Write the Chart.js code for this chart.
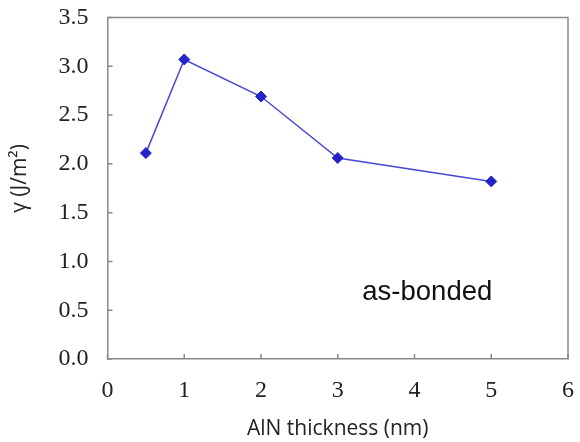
<!DOCTYPE html>
<html>
<head>
<meta charset="utf-8">
<script src="https://cdn.jsdelivr.net/npm/chart.js@4"></script>
<style>
  html, body { margin: 0; padding: 0; background: #fff; }
  #wrap { width: 580px; height: 442px; }
</style>
</head>
<body>
<div id="wrap"><canvas id="myChart" width="580" height="442"></canvas></div>
<script>
// AlN thickness (nm) vs bonding energy
const thickness = [0.5, 1, 2, 3, 5];
const gamma = [2.11, 3.07, 2.69, 2.06, 1.82];
const xTicks = [0, 1, 2, 3, 4, 5, 6];
const yTicks = [0.0, 0.5, 1.0, 1.5, 2.0, 2.5, 3.0, 3.5];

const axisGray = '#8a8a8a';

// frame on top/right + small inward tick marks + y title
const framePlugin = {
  id: 'frame',
  afterDraw(chart) {
    const {ctx, chartArea: a, scales} = chart;
    ctx.save();
    ctx.strokeStyle = axisGray;
    ctx.lineWidth = 1.5;
    ctx.beginPath();
    ctx.moveTo(a.left, a.top);
    ctx.lineTo(a.right, a.top);
    ctx.lineTo(a.right, a.bottom);
    ctx.stroke();
    ctx.beginPath();
    xTicks.forEach(v => {
      const px = scales.x.getPixelForValue(v);
      ctx.moveTo(px, a.bottom);
      ctx.lineTo(px, a.bottom - 5);
    });
    yTicks.forEach(v => {
      const py = scales.y.getPixelForValue(v);
      ctx.moveTo(a.left, py);
      ctx.lineTo(a.left + 5, py);
    });
    ctx.stroke();

    // y axis title
    ctx.translate(20, scales.y.getPixelForValue(1.85));
    ctx.rotate(-Math.PI / 2);
    ctx.fillStyle = '#222';
    ctx.font = '21px "Open Sans"';
    ctx.textAlign = 'center';
    ctx.textBaseline = 'middle';
    ctx.fillText('γ (J/m²)', 0, 0);
    ctx.restore();
  }
};

const ctx = document.getElementById('myChart').getContext('2d');
const myChart = new Chart(ctx, {
  type: 'scatter',
  data: {
    datasets: [{
      label: 'as-bonded',
      data: thickness.map((t, i) => ({x: t, y: gamma[i]})),
      showLine: true,
      borderColor: '#4848d8',
      borderWidth: 1.5,
      pointStyle: 'rectRot',
      pointRadius: 5.5,
      pointBackgroundColor: '#2424c8',
      pointBorderColor: '#2424c8',
      pointBorderWidth: 1
    }]
  },
  options: {
    responsive: false,
    animation: false,
    layout: { padding: { top: 17.5, right: 12, left: 0, bottom: 0 } },
    plugins: {
      legend: { display: false },
      tooltip: { enabled: false }
    },
    scales: {
      x: {
        type: 'linear',
        min: 0, max: 6,
        afterBuildTicks: s => { s.ticks = xTicks.map(v => ({value: v})); },
        afterFit: s => { s.height = 83; },
        grid: { display: true, drawOnChartArea: false, drawTicks: true, tickLength: 17, color: 'rgba(0,0,0,0)' },
        border: { display: true, color: axisGray, width: 1.5 },
        ticks: {
          padding: 0,
          color: '#222',
          font: { family: 'Liberation Serif', size: 24 },
          maxRotation: 0
        },
        title: {
          display: true,
          text: 'AlN thickness (nm)',
          color: '#222',
          font: { family: 'Open Sans', size: 21 },
          padding: { top: 17, bottom: 0 }
        }
      },
      y: {
        min: 0, max: 3.5,
        afterBuildTicks: s => { s.ticks = yTicks.map(v => ({value: v})); },
        afterFit: s => { s.width = 107.5; },
        grid: { display: true, drawOnChartArea: false, drawTicks: true, tickLength: 19, color: 'rgba(0,0,0,0)' },
        border: { display: true, color: axisGray, width: 1.5 },
        ticks: {
          padding: 0,
          color: '#222',
          font: { family: 'Liberation Serif', size: 24 },
          callback: v => v.toFixed(1)
        },
        title: { display: false }
      }
    }
  },
  plugins: [framePlugin, {
    id: 'note',
    afterDraw(chart) {
      const {ctx, scales} = chart;
      ctx.save();
      ctx.fillStyle = '#111';
      ctx.font = '27.5px "Liberation Sans"';
      ctx.textAlign = 'left';
      ctx.textBaseline = 'middle';
      ctx.fillText('as-bonded', scales.x.getPixelForValue(3.32), scales.y.getPixelForValue(0.68));
      ctx.restore();
    }
  }]
});
</script>
</body>
</html>
